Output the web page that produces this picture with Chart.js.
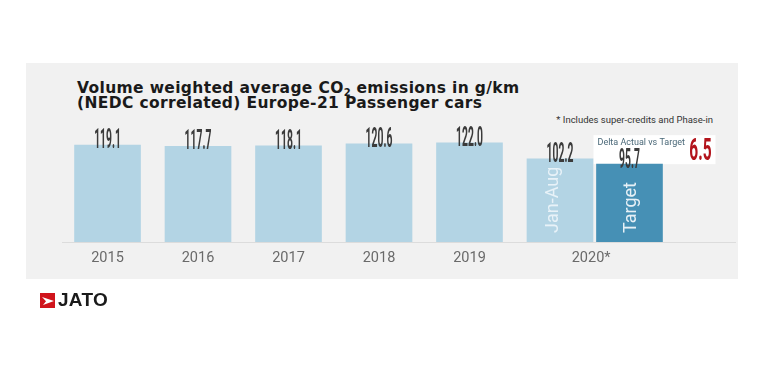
<!DOCTYPE html>
<html>
<head>
<meta charset="utf-8">
<script src="https://cdn.jsdelivr.net/npm/chart.js@4.4.1/dist/chart.umd.min.js"></script>
<style>
  html, body { margin: 0; padding: 0; background: #fff; }
  #page { position: relative; width: 768px; height: 384px; overflow: hidden; }
  #panel { position: absolute; left: 26px; top: 63px; width: 712px; height: 216px; background: #f1f1f1; }
  #title { position: absolute; left: 77px; top: 81px; font: bold 15.5px "DejaVu Sans", sans-serif; letter-spacing: 0.35px; line-height: 15px; color: #1a1a1a; white-space: nowrap; }
  #title sub { font-size: 10px; line-height: 0; vertical-align: -3px; letter-spacing: 0; }
  #note { position: absolute; right: 55px; top: 114px; font: 9.5px Roboto, sans-serif; line-height: 12px; color: #333; white-space: nowrap; }
  #chart { position: absolute; left: 0; top: 0; }
  #logo { position: absolute; left: 40px; top: 292px; height: 16px; display: flex; align-items: center; }
  #logo span { font: bold 19px "Liberation Sans", Arial, sans-serif; color: #1a1a1a; margin-left: 3px; letter-spacing: 0.3px; }
</style>
</head>
<body>
<div id="page">
  <div id="panel"></div>
  <div id="title">Volume weighted average CO<sub>2</sub> emissions in g/km<br>(NEDC correlated) Europe-21 Passenger cars</div>
  <div id="note">* Includes super-credits and Phase-in</div>
  <canvas id="chart" width="768" height="384"></canvas>
  <div id="logo">
    <svg width="15" height="15" viewBox="0 0 15 15"><rect width="15" height="15" fill="#d0141c"/><polygon points="2,4 14,8 3,12 6,8.3" fill="#fff"/></svg>
    <span>JATO</span>
  </div>
</div>
<script>
// data
const years = ["2015", "2016", "2017", "2018", "2019", "2020*"];
const actual = [119.1, 117.7, 118.1, 120.6, 122.0, 102.2];
const target2020 = 95.7;
const barNames = ["Jan-Aug", "Target"];

// layout: target bar sits right next to the 2020 bar
const TARGET_SHIFT = 0.768;
const last = actual.length - 1;
const tickPos = years.map((y, i) => i === last ? i + TARGET_SHIFT / 2 - 0.04 : i);

function narrowText(ctx, text, x, y, size, color, sx) {
  ctx.save();
  ctx.font = "bold " + size + "px Roboto, sans-serif";
  ctx.fillStyle = color;
  ctx.textAlign = "center";
  ctx.textBaseline = "alphabetic";
  ctx.translate(x, y);
  ctx.scale(sx, 1);
  ctx.fillText(text, 0, 0);
  ctx.restore();
}

function sideText(ctx, text, x, y, color) {
  ctx.save();
  ctx.font = "18px Roboto, sans-serif";
  ctx.fillStyle = color;
  ctx.textAlign = "left";
  ctx.textBaseline = "alphabetic";
  ctx.translate(x, y);
  ctx.rotate(-Math.PI / 2);
  ctx.fillText(text, 0, 0);
  ctx.restore();
}

const labels = {
  id: "labels",
  beforeDatasetsDraw(chart) {
    const ctx = chart.ctx;
    const t = chart.getDatasetMeta(1).data[0];
    // white delta box behind the target bar
    const left = t.x - 36, right = t.x + 86, bottom = t.y, top = t.y - 29;
    ctx.save();
    ctx.fillStyle = "#ffffff";
    ctx.fillRect(left, top, right - left, bottom - top);
    ctx.font = "9px Roboto, sans-serif";
    ctx.fillStyle = "#4a6878";
    ctx.textBaseline = "middle";
    ctx.fillText("Delta Actual vs Target", left + 4, top + 8);
    ctx.restore();
    const delta = (actual[last] - target2020).toFixed(1);
    narrowText(ctx, delta, right - 15, top + 25, 31, "#b3141c", 0.5);
  },
  afterDatasetsDraw(chart) {
    const ctx = chart.ctx;
    const bars = chart.getDatasetMeta(0).data;
    bars.forEach((b, i) => {
      narrowText(ctx, actual[i].toFixed(1), b.x, b.y + 3, 28, "#3b3b3b", 0.37);
    });
    const t = chart.getDatasetMeta(1).data[0];
    narrowText(ctx, target2020.toFixed(1), t.x, t.y + 4, 28, "#3b3b3b", 0.37);
    const base = chart.chartArea.bottom - 9;
    sideText(ctx, barNames[0], bars[last].x - 2, base, "#e8f2f8");
    sideText(ctx, barNames[1], t.x + 7, base, "#e6f0f6");
  }
};

new Chart(document.getElementById("chart"), {
  type: "bar",
  data: {
    datasets: [
      {
        data: actual.map((v, i) => ({ x: i, y: v })),
        backgroundColor: "#b3d4e4"
      },
      {
        data: [{ x: last + TARGET_SHIFT, y: target2020 }],
        backgroundColor: "#4690b5"
      }
    ]
  },
  options: {
    responsive: false,
    animation: false,
    devicePixelRatio: 1,
    grouped: false,
    barThickness: 66,
    layout: { padding: { top: 120, left: 62, right: 33, bottom: 102 } },
    plugins: { legend: { display: false }, tooltip: { enabled: false } },
    scales: {
      x: {
        type: "linear",
        offset: false,
        min: -0.503,
        max: 6.934,
        afterBuildTicks: s => { s.ticks = tickPos.map(v => ({ value: v })); },
        afterFit: s => { s.height = 40; },
        ticks: {
          autoSkip: false,
          maxRotation: 0,
          padding: 8,
          color: "#6a6a6a",
          font: { family: "Roboto", size: 14.5 },
          callback: (v, i) => years[i]
        },
        grid: { display: true, drawOnChartArea: false, drawTicks: false },
        border: { display: true, color: "#dcdcdc", width: 1 }
      },
      y: { display: false, min: 0, max: 150 }
    }
  },
  plugins: [labels]
});
</script>
</body>
</html>
